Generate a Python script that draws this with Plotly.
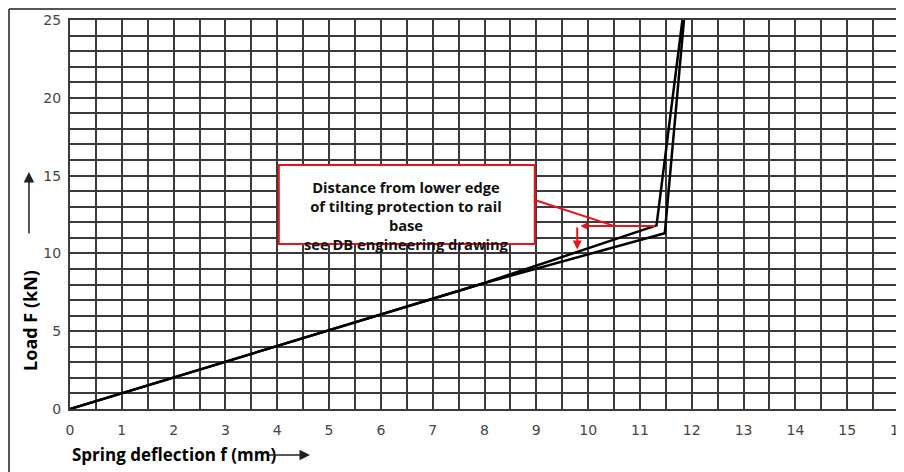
import plotly.graph_objects as go

# Data
upper_x = [0, 8.0, 11.32, 11.82]
upper_y = [0, 8.1, 11.8, 25]
lower_x = [0, 8.0, 11.48, 11.85]
lower_y = [0, 8.1, 11.3, 25]

x_ticks = list(range(0, 17))
y_ticks = [0, 5, 10, 15, 20, 25]

box_text = ("Distance from lower edge<br>of tilting protection to rail<br>base<br>"
            "see DB engineering drawing")

fig = go.Figure()
for xs, ys in [(upper_x, upper_y), (lower_x, lower_y)]:
    fig.add_trace(go.Scatter(x=xs, y=ys, mode="lines",
                             line=dict(color="black", width=2.5),
                             hoverinfo="skip", showlegend=False))

grid_col = "#3a3a3a"
tick_font = dict(family="DejaVu Sans", size=14, color="#444444")

fig.update_layout(
    width=904, height=472,
    margin=dict(l=62, r=13, t=12, b=71),
    paper_bgcolor="white", plot_bgcolor="white",
    showlegend=False,
    xaxis=dict(range=[0, 16], tickvals=x_ticks, ticktext=[str(v) for v in x_ticks],
               showgrid=True, gridcolor=grid_col, gridwidth=2,
               minor=dict(dtick=0.5, showgrid=True, gridcolor=grid_col, gridwidth=2),
               zeroline=False, showline=True, linecolor=grid_col, linewidth=2, mirror=True,
               ticks="", tickfont=tick_font, ticklabelstandoff=7, fixedrange=True,
               automargin=False),
    yaxis=dict(range=[0, 25], tickvals=y_ticks, ticktext=[str(v) for v in y_ticks],
               showgrid=True, gridcolor=grid_col, gridwidth=2,
               minor=dict(dtick=1, showgrid=True, gridcolor=grid_col, gridwidth=2),
               zeroline=False, showline=True, linecolor=grid_col, linewidth=2, mirror=True,
               ticks="", tickfont=tick_font, ticklabelstandoff=4, fixedrange=True,
               automargin=False),
)

# Outer frame (left and top edges visible)
fig.add_shape(type="line", xref="paper", yref="paper", x0=-0.0736, x1=-0.0736, y0=1.028, y1=-0.3,
              line=dict(color="#555555", width=2))
fig.add_shape(type="line", xref="paper", yref="paper", x0=-0.0736, x1=1.1, y0=1.028, y1=1.028,
              line=dict(color="#555555", width=2))

# Red annotation box
fig.add_shape(type="rect", x0=4.03, x1=8.97, y0=10.6, y1=15.68,
              line=dict(color="#e8141c", width=2), fillcolor="white", layer="above")
fig.add_annotation(x=6.5, y=12.42, text=box_text, showarrow=False,
                   xanchor="center", yanchor="middle",
                   font=dict(family="Open Sans", size=14.7, color="#111111", weight="bold"),
                   align="center")
# Leader lines
fig.add_shape(type="line", x0=8.97, y0=13.43, x1=10.47, y1=11.80,
              line=dict(color="#e8141c", width=2))
fig.add_annotation(x=9.85, y=11.76, ax=11.32, ay=11.76, axref="x", ayref="y",
                   text="", showarrow=True, arrowhead=2, arrowsize=0.7, arrowwidth=2,
                   arrowcolor="#e8141c")
fig.add_annotation(x=9.79, y=10.25, ax=9.79, ay=11.76, axref="x", ayref="y",
                   text="", showarrow=True, arrowhead=2, arrowsize=0.9, arrowwidth=2,
                   arrowcolor="#e8141c")

# Y axis label and arrow (paper coordinates, outside plot area)
fig.add_annotation(xref="paper", yref="paper", x=-0.0483, y=0.229, text="Load F (kN)",
                   textangle=-90, showarrow=False,
                   font=dict(family="Open Sans", size=18, color="black", weight="bold"),
                   xanchor="center", yanchor="middle")
fig.add_annotation(xref="paper", yref="paper", x=-0.0495, y=0.609, ax=0, ay=63,
                   text="", showarrow=True, arrowhead=2, arrowsize=1.4, arrowwidth=1.5,
                   arrowcolor="#222222")
# X axis label and arrow
fig.add_annotation(xref="paper", yref="paper", x=0.0, y=-0.118, text="Spring deflection f (mm)",
                   xanchor="left", yanchor="middle", showarrow=False,
                   font=dict(family="Open Sans", size=17, color="black", weight="bold"))
fig.add_annotation(xref="paper", yref="paper", x=0.2895, y=-0.118, ax=-43, ay=0,
                   text="", showarrow=True, arrowhead=2, arrowsize=1.4, arrowwidth=1.5,
                   arrowcolor="#222222")

fig.write_html("out.html")
